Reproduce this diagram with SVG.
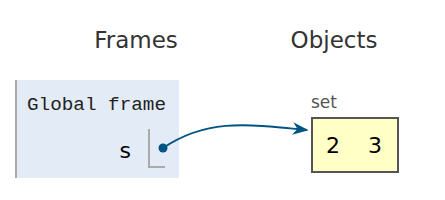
<svg xmlns="http://www.w3.org/2000/svg" width="445" height="200" viewBox="0 0 445 200">
<style>
.hdr{font-family:"DejaVu Sans",Verdana,sans-serif;font-size:23px;fill:#333}
.mono{font-family:"Liberation Mono","DejaVu Sans Mono",monospace;font-size:18px;fill:#222}
.var{font-family:"DejaVu Sans",Verdana,sans-serif;font-size:22px;fill:#000}
.lbl{font-family:"DejaVu Sans",Verdana,sans-serif;font-size:17px;fill:#555}
</style>
<defs>
<marker id="ah" viewBox="0 0 10 10" refX="9" refY="5" markerWidth="8" markerHeight="8" orient="auto" markerUnits="strokeWidth">
<path d="M0,1 L10,5 L0,9 L3,5 z" fill="#005583"/>
</marker>
</defs>
<text class="hdr" x="136" y="48" text-anchor="middle">Frames</text>
<text class="hdr" x="334" y="48" text-anchor="middle">Objects</text>
<g id="global-frame">
<rect x="15" y="80" width="164" height="98" fill="#e2ebf6"/>
<rect x="15" y="80" width="2" height="98" fill="#aaaaaa"/>
<text class="mono" x="27" y="110" textLength="139" lengthAdjust="spacingAndGlyphs">Global frame</text>
<text class="var" x="131" y="158" text-anchor="end">s</text>
<path d="M149,129 V167 H165" fill="none" stroke="#aaaaaa" stroke-width="2"/>
</g>
<g id="set-object">
<text class="lbl" x="311" y="108">set</text>
<rect x="312" y="118" width="86" height="54" fill="#ffffc6" stroke="#555555" stroke-width="2"/>
<text class="var" x="333" y="153" text-anchor="middle">2</text>
<text class="var" x="375" y="153" text-anchor="middle">3</text>
</g>
<g id="connectors">
<circle cx="163" cy="148" r="4.5" fill="#005583"/>
<path d="M163,148 C205,120 240,123 307,130" fill="none" stroke="#005583" stroke-width="2" marker-end="url(#ah)"/>
</g>
</svg>
